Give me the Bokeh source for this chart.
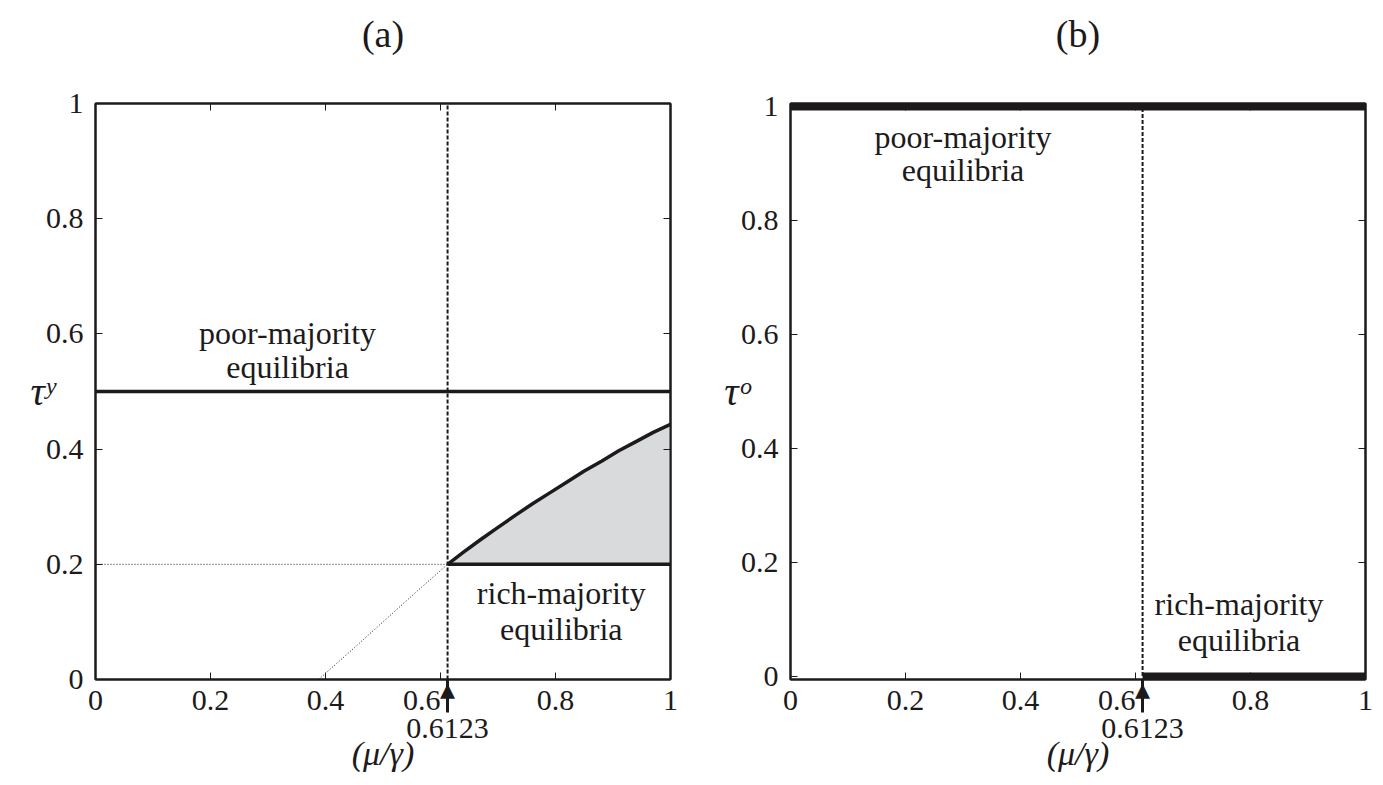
from bokeh.plotting import figure
from bokeh.models import Range1d, LinearAxis, FixedTicker, CustomJSTickFormatter
from bokeh.layouts import row
from bokeh.embed import file_html
from bokeh.resources import INLINE
from bokeh.core.properties import value

FONT = "Liberation Serif"
INK = "#1c1a1b"

# ---- data ----
ticks = [0, 0.2, 0.4, 0.6, 0.8, 1]
threshold = 0.6123
threshold_label = "0.6123"
poor_tau_y = 0.5
rich_tau_y_low = 0.2
# upper boundary of the rich-majority region (solid part)
curve_x = [0.6123, 0.64, 0.67, 0.70, 0.73, 0.76, 0.79, 0.82, 0.85, 0.88, 0.91, 0.94, 0.97, 1.0]
curve_y = [0.2, 0.221, 0.243, 0.264, 0.285, 0.305, 0.324, 0.343, 0.362, 0.379, 0.397, 0.413,
           0.429, 0.443]
# dotted extension of the boundary
ext_x = [0.388, 0.45, 0.501, 0.56, 0.6123]
ext_y = [0.0, 0.055, 0.101, 0.154, 0.2]
poor_tau_o = 1.0
rich_tau_o = 0.0

label_poor = ["poor-majority", "equilibria"]
label_rich = ["rich-majority", "equilibria"]


def style_axis(ax):
    ax.minor_tick_line_color = None
    ax.major_tick_line_color = INK
    ax.major_tick_line_width = 1
    ax.axis_line_color = INK
    ax.axis_line_width = 2
    ax.major_label_text_font = FONT
    ax.major_label_text_font_size = "30px"
    ax.major_label_text_color = INK
    ax.axis_label_text_font = FONT
    ax.axis_label_text_color = INK
    ax.axis_label_text_font_style = "italic"


def make_panel(title, ylabel, width, left, right, pad):
    p = figure(width=width, height=785, x_range=Range1d(0, 1),
               y_range=Range1d(-pad, 1 + pad), output_backend="svg",
               toolbar_location=None, min_border_left=left, min_border_right=right,
               min_border_top=103, min_border_bottom=106,
               x_axis_location=None, y_axis_location=None)
    p.background_fill_color = "white"
    p.border_fill_color = "white"
    p.grid.visible = False
    p.outline_line_color = INK
    p.outline_line_width = 2
    p.title.text = title + "\n\u00a0"
    p.title.align = "center"
    p.title.vertical_align = "top"
    p.title.standoff = 10
    p.title.text_font = FONT
    p.title.text_font_size = "38px"
    p.title.text_font_style = "normal"
    p.title.text_color = INK

    fmt = CustomJSTickFormatter(code="return String(tick)")
    # keep the 0.6 label clear of the threshold arrow (shifted left as in the figure)
    fmt_x = CustomJSTickFormatter(
        code="return tick == 0.6 ? '0.6\u00a0\u00a0\u00a0\u00a0\u00a0' : String(tick)")
    blank = CustomJSTickFormatter(code="return ''")

    # main x axis: tick labels, inside ticks, arrow shaft as a minor tick
    xa = LinearAxis(ticker=FixedTicker(ticks=ticks, minor_ticks=[threshold]), formatter=fmt_x)
    style_axis(xa)
    xa.major_tick_in = 7
    xa.major_tick_out = 0
    xa.minor_tick_line_color = INK
    xa.minor_tick_line_width = 3
    xa.minor_tick_in = 0
    xa.minor_tick_out = 33
    xa.major_label_standoff = -30
    p.add_layout(xa, "below")

    # second x axis: arrow head and threshold value, plus the axis title
    xb = LinearAxis(ticker=FixedTicker(ticks=[threshold]),
                    formatter=CustomJSTickFormatter(
                        code="return '\u25b4\\n%s'" % threshold_label))
    style_axis(xb)
    xb.axis_line_color = None
    xb.major_tick_line_color = None
    xb.major_tick_in = 0
    xb.major_tick_out = 0
    xb.major_label_standoff = -47
    xb.axis_label = "(μ/γ)"
    xb.axis_label_text_font_size = "34px"
    xb.axis_label_standoff = -12
    p.add_layout(xb, "below")

    ya = LinearAxis(ticker=FixedTicker(ticks=ticks), formatter=fmt)
    style_axis(ya)
    ya.major_tick_in = 7
    ya.major_tick_out = 0
    ya.axis_label = ylabel
    ya.axis_label_text_font_size = "40px"
    ya.axis_label_orientation = "horizontal"
    ya.major_label_standoff = 12
    ya.axis_label_standoff = -12
    p.add_layout(ya, "left")

    for side in ("above", "right"):
        ax = LinearAxis(ticker=FixedTicker(ticks=ticks), formatter=blank)
        style_axis(ax)
        ax.major_tick_in = 7
        ax.major_tick_out = 0
        ax.major_label_standoff = 0
        p.add_layout(ax, side)

    # vertical dashed threshold line
    p.line([threshold, threshold], [0, 1], line_color=INK, line_width=2, line_dash="4 2")
    return p


# ---- panel (a) ----
pa = make_panel("(a)", "τʸ", 692, 95, 22, 0.0)
pa.varea(x=curve_x, y1=[rich_tau_y_low] * len(curve_x), y2=curve_y, fill_color="#d9dadc")
pa.line([0, threshold], [rich_tau_y_low, rich_tau_y_low], line_color=INK, line_width=1,
        line_dash="1 2")
pa.line(ext_x, ext_y, line_color=INK, line_width=1, line_dash="1 2")
pa.line([0, 1], [poor_tau_y, poor_tau_y], line_color=INK, line_width=3.5)
pa.line([threshold, 1], [rich_tau_y_low, rich_tau_y_low], line_color=INK, line_width=3.5)
pa.line(curve_x, curve_y, line_color=INK, line_width=3.5, line_join="round")
pa.text(x=[0.334, 0.334], y=[0.602, 0.543], text=label_poor, text_align="center",
        text_baseline="middle", text_font=value(FONT), text_font_size="32px", text_color=INK)
pa.text(x=[0.81, 0.81], y=[0.151, 0.088], text=label_rich, text_align="center",
        text_baseline="middle", text_font=value(FONT), text_font_size="32px", text_color=INK)

# ---- panel (b) ----
pb = make_panel("(b)", "τᵒ", 691, 98, 18, 0.006)
pb.line([0, 1], [poor_tau_o, poor_tau_o], line_color=INK, line_width=7)
pb.line([threshold, 1], [rich_tau_o, rich_tau_o], line_color=INK, line_width=7)
pb.text(x=[0.3, 0.3], y=[0.948, 0.89], text=label_poor, text_align="center",
        text_baseline="middle", text_font=value(FONT), text_font_size="32px", text_color=INK)
pb.text(x=[0.78, 0.78], y=[0.127, 0.064], text=label_rich, text_align="center",
        text_baseline="middle", text_font=value(FONT), text_font_size="32px", text_color=INK)

layout = row(pa, pb)
open("out.html", "w").write(file_html(layout, INLINE))
